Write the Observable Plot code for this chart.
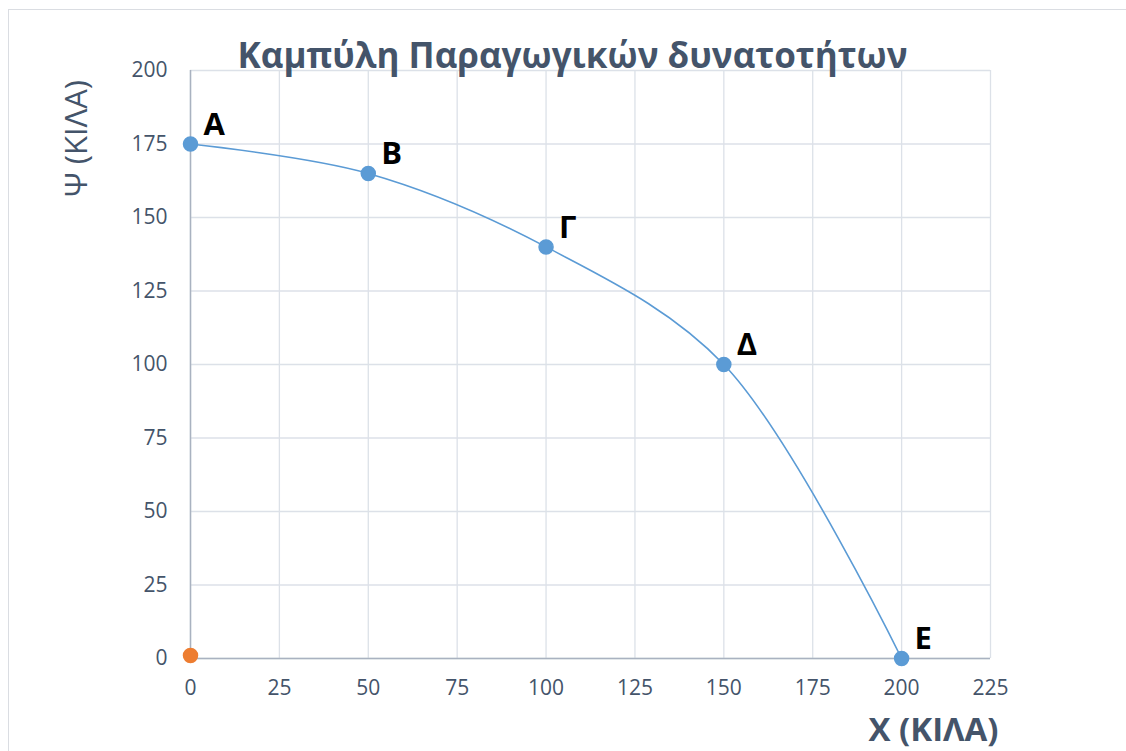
<!DOCTYPE html>
<html>
<head>
<meta charset="utf-8">
<script src="https://cdn.jsdelivr.net/npm/d3@7"></script>
<script src="https://cdn.jsdelivr.net/npm/@observablehq/plot@0.6"></script>
<style>
  html, body { margin: 0; padding: 0; background: #fff; }
  #wrap { position: relative; width: 1126px; height: 751px; overflow: hidden; }
  #border { position: absolute; left: 8px; top: 9px; width: 1300px; height: 900px; border: 1px solid #DADDE2; box-sizing: border-box; }
  #chart { position: absolute; left: 0; top: 0; }
</style>
</head>
<body>
<div id="wrap"><div id="border"></div><div id="chart"></div></div>
<script>
const labels = ["Α", "Β", "Γ", "Δ", "Ε"];
const xValues = [0, 50, 100, 150, 200];
const yValues = [175, 165, 140, 100, 0];
const originX = [0];
const originY = [1];
const xTicks = [0, 25, 50, 75, 100, 125, 150, 175, 200, 225];
const yTicks = [0, 25, 50, 75, 100, 125, 150, 175, 200];
const title = "Καμπύλη Παραγωγικών δυνατοτήτων";
const xLabel = "Χ (ΚΙΛΑ)";
const yLabel = "Ψ (ΚΙΛΑ)";

const pts = labels.map((l, i) => ({label: l, x: xValues[i], y: yValues[i]}));
const origin = originX.map((x, i) => ({x, y: originY[i]}));

const font = "'Open Sans', sans-serif";
const textColor = "#44546A";

const plot = Plot.plot({
  width: 1126,
  height: 751,
  marginLeft: 190,
  marginRight: 136,
  marginTop: 70,
  marginBottom: 93,
  style: {fontFamily: font, background: "transparent", overflow: "visible"},
  x: {domain: [0, 225], ticks: xTicks},
  y: {domain: [0, 200], ticks: yTicks},
  marks: [
    Plot.gridX(xTicks, {stroke: "#DCE1E8", strokeOpacity: 1, strokeWidth: 1.3}),
    Plot.gridY(yTicks, {stroke: "#DCE1E8", strokeOpacity: 1, strokeWidth: 1.3}),
    Plot.ruleX([0], {stroke: "#A9B2C0", strokeWidth: 1.5}),
    Plot.ruleY([0], {stroke: "#A9B2C0", strokeWidth: 1.5}),
    Plot.axisX({ticks: xTicks, tickSize: 0, tickPadding: 22, fontSize: 21, color: textColor, label: null}),
    Plot.axisY({ticks: yTicks, tickSize: 0, tickPadding: 23, fontSize: 21, color: textColor, label: null}),
    Plot.line(pts, {x: "x", y: "y", curve: "catmull-rom", stroke: "#5B9BD5", strokeWidth: 1.6}),
    Plot.dot(pts, {x: "x", y: "y", r: 7, fill: "#5B9BD5", stroke: "#5B9BD5"}),
    Plot.dot(origin, {x: "x", y: "y", r: 7, fill: "#ED7D31", stroke: "#ED7D31"}),
    Plot.text(pts, {x: "x", y: "y", text: "label", textAnchor: "start", dx: 13, dy: -19, fontSize: 31, fontWeight: "bold", fill: "#000", lineAnchor: "middle"}),
    Plot.text([title], {frameAnchor: "top", dx: -18, dy: -14, fontSize: 35, fontWeight: "bold", fill: textColor, lineAnchor: "middle"}),
    Plot.text([xLabel], {frameAnchor: "bottom-right", textAnchor: "end", dx: 8, dy: 72, fontSize: 33, fontWeight: "bold", fill: textColor, lineAnchor: "middle"}),
    Plot.text([yLabel], {frameAnchor: "top-left", textAnchor: "middle", rotate: -90, dx: -113, dy: 68, fontSize: 31, fill: textColor, lineAnchor: "middle"})
  ]
});
document.getElementById("chart").appendChild(plot);
</script>
</body>
</html>
